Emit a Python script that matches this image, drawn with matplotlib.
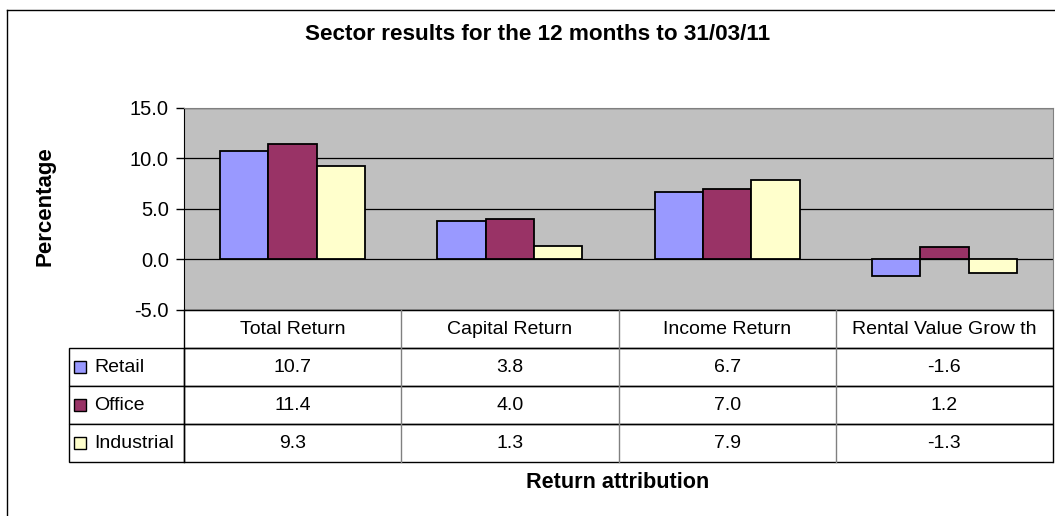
import numpy as np
import matplotlib.pyplot as plt
from matplotlib.table import Table
from matplotlib.patches import Rectangle
from matplotlib.lines import Line2D

plt.rcParams["font.family"] = ["Liberation Sans", "DejaVu Sans"]

categories = ["Total Return", "Capital Return", "Income Return", "Rental Value Grow th"]
series = ["Retail", "Office", "Industrial"]
retail = [10.7, 3.8, 6.7, -1.6]
office = [11.4, 4.0, 7.0, 1.2]
industrial = [9.3, 1.3, 7.9, -1.3]
yticks = [-5, 0, 5, 10, 15]

colors = ["#9999FF", "#993366", "#FFFFCC"]
values = [retail, office, industrial]

W, H = 1055, 516
fig = plt.figure(figsize=(W / 100, H / 100), dpi=100)
fig.patch.set_facecolor("white")

# plot area in pixel terms
L, R, T, B = 184, 1053, 108, 310
ax = fig.add_axes([L / W, 1 - B / H, (R - L) / W, (B - T) / H])
ax.set_facecolor("#C0C0C0")

x = np.arange(len(categories))
bw = 0.667 / 3
for i, (vals, col) in enumerate(zip(values, colors)):
    ax.bar(x + (i - 1) * bw, vals, bw, color=col, edgecolor="black", lw=1.3, zorder=3)

ax.set_xlim(-0.5, len(categories) - 0.5)
ax.set_ylim(-5, 15)
ax.set_yticks(yticks)
ax.set_yticklabels([f"{v:.1f}" for v in yticks], fontsize=14.5)
ax.set_xticks([])
ax.tick_params(axis="y", length=6, width=1, direction="out", pad=5)
ax.yaxis.grid(True, color="black", lw=0.9)
ax.set_axisbelow(True)
for s in ["top", "right"]:
    ax.spines[s].set_color("#808080")
for s in ["left", "bottom"]:
    ax.spines[s].set_color("black")

# data table below the plot area
lab_w = L - 69
colw = [lab_w] + [(R - L) / 4] * 4
tot_w = sum(colw)
tb_h = 462 - B
x0 = (69 - L) / (R - L)
y0 = -tb_h / (B - T)
tbl = Table(ax, bbox=[x0, y0, tot_w / (R - L), tb_h / (B - T)])
nrows = len(series) + 1
for r in range(nrows):
    for c in range(len(colw)):
        if r == 0:
            txt = "" if c == 0 else categories[c - 1]
            loc = "center"
        else:
            txt = series[r - 1] if c == 0 else f"{values[r - 1][c - 1]:.1f}"
            loc = "left" if c == 0 else "center"
        cell = tbl.add_cell(r, c, colw[c] / tot_w, 1 / nrows, text=txt, loc=loc,
                            edgecolor="black", facecolor="white")
        cell.get_text().set_fontsize(14)
        if c == 0:
            cell.visible_edges = "" if r == 0 else "closed"
            cell.PAD = 25 / lab_w
        else:
            cell.visible_edges = "BT"
tbl.auto_set_font_size(False)
ax.add_table(tbl)

# vertical rules of the table
for k in range(len(categories) + 1):
    xv = k / len(categories)
    inner = 0 < k < len(categories)
    ax.add_artist(Line2D([xv, xv], [y0, 0], transform=ax.transAxes, clip_on=False,
                         color="#808080" if inner else "black", lw=1, zorder=6))

# legend keys in the row label cells
row_h = tb_h / nrows
for i, col in enumerate(colors):
    cy = B + row_h * (i + 1.5)
    ax.add_patch(Rectangle(((74 - L) / (R - L), (B - cy - 6) / (B - T)), 12 / (R - L), 12 / (B - T),
                           transform=ax.transAxes, clip_on=False, facecolor=col,
                           edgecolor="black", lw=1, zorder=5))

fig.text(538 / W, 1 - 34 / H, "Sector results for the 12 months to 31/03/11",
         ha="center", va="center", fontsize=16.2, fontweight="bold")
fig.text(45 / W, 1 - 206 / H, "Percentage", rotation=90, ha="center", va="center",
         fontsize=16, fontweight="bold")
fig.text(618 / W, 1 - 483 / H, "Return attribution", ha="center", va="center",
         fontsize=15.6, fontweight="bold")

# chart border (only left and top visible in the crop)
fig.add_artist(Line2D([7 / W, 7 / W], [0, 1 - 10 / H], color="black", lw=1, transform=fig.transFigure))
fig.add_artist(Line2D([7 / W, 1], [1 - 10 / H, 1 - 10 / H], color="black", lw=1, transform=fig.transFigure))

fig.savefig("out.png", dpi=100)
